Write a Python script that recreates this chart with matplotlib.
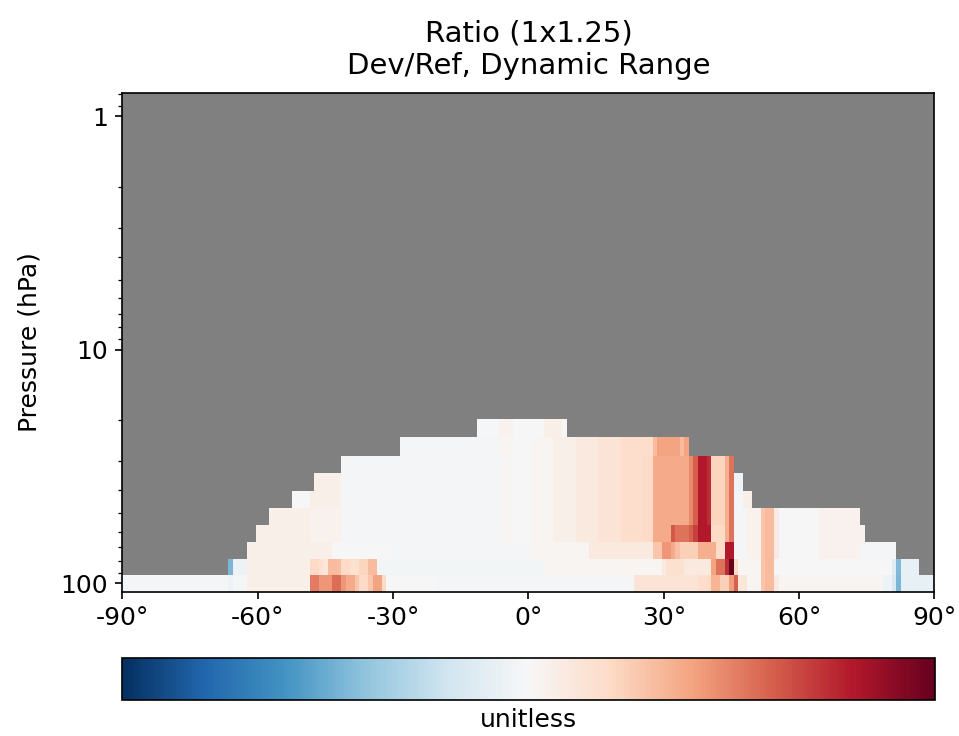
import numpy as np
import matplotlib
matplotlib.use("Agg")
import matplotlib.pyplot as plt
import matplotlib.ticker as mticker

# GEOS-Chem 72-level pressure edges (hPa), bottom of plot to top
pres_edges = [108.663, 92.366, 78.512, 66.603, 56.388, 47.644, 40.175, 33.810,
              28.368, 23.730, 19.792, 16.457, 13.643, 11.277, 9.293, 7.620,
              6.217, 5.047, 4.077, 3.276, 2.620, 2.085, 1.651, 1.301, 1.019, 0.795]

# 1x1.25 grid latitude edges (half-size polar cells)
lat_edges = np.concatenate(([-90.0], np.arange(-89.5, 90.0, 1.0), [90.0]))

# ratio values, (lat_from, lat_to, ratio) per level
row_1 = [(-90, -66.5, 0.99), (-66.5, -65.5, 0.97), (-65.5, -62.5, 0.99), (-62.5, -48.5, 1.03),
         (-48.5, -46.5, 1.26), (-46.5, -43.5, 1.22), (-43.5, -41.5, 1.28), (-41.5, -40.5, 1.22),
         (-40.5, -38.5, 1.19), (-38.5, -37.5, 1.14), (-37.5, -35.5, 1.10), (-35.5, -34.5, 1.14),
         (-34.5, -32.5, 1.20), (-32.5, -31.5, 1.10), (-31.5, -20.5, 1.0), (-20.5, 23.5, 0.99),
         (23.5, 37.5, 1.07), (37.5, 39.5, 1.09), (39.5, 40.5, 1.10), (40.5, 42.5, 1.17),
         (42.5, 44.5, 1.12), (44.5, 45.5, 1.21), (45.5, 46.5, 1.30), (46.5, 48.5, 1.06),
         (48.5, 51.5, 1.01), (51.5, 52.5, 1.14), (52.5, 54.5, 1.16), (54.5, 55.5, 1.04),
         (55.5, 78.5, 1.01), (78.5, 80.5, 0.97), (80.5, 81.5, 0.92), (81.5, 82.5, 0.77),
         (82.5, 90, 0.96)]

row_2 = [(-66.5, -65.5, 0.77), (-65.5, -62.5, 0.97), (-62.5, -48.5, 1.03), (-48.5, -46.5, 1.10),
         (-46.5, -45.5, 1.08), (-45.5, -44.5, 1.06), (-44.5, -42.5, 1.16), (-42.5, -41.5, 1.15),
         (-41.5, -39.5, 1.10), (-39.5, -37.5, 1.08), (-37.5, -35.5, 1.11), (-35.5, -33.5, 1.16),
         (-33.5, 3.5, 0.985), (3.5, 29.5, 1.01), (29.5, 30.5, 1.05), (30.5, 34.5, 1.08),
         (34.5, 40.5, 1.05), (40.5, 41.5, 1.20), (41.5, 43.5, 1.27), (43.5, 44.5, 1.37),
         (44.5, 45.5, 1.50), (45.5, 46.5, 1.10), (46.5, 51.5, 1.01), (51.5, 52.5, 1.14),
         (52.5, 54.5, 1.16), (54.5, 80.5, 1.0), (80.5, 81.5, 0.94), (81.5, 82.5, 0.78),
         (82.5, 86.5, 0.96)]

row_3 = [(-62.5, -43.5, 1.03), (-43.5, -30.5, 1.0), (-30.5, 0.5, 0.99), (0.5, 13.5, 1.01),
         (13.5, 27.5, 1.05), (27.5, 29.5, 1.14), (29.5, 31.5, 1.22), (31.5, 32.5, 1.19),
         (32.5, 33.5, 1.15), (33.5, 37.5, 1.12), (37.5, 41.5, 1.18), (41.5, 43.5, 1.10),
         (43.5, 45.5, 1.40), (45.5, 48.5, 0.99), (48.5, 51.5, 1.02), (51.5, 52.5, 1.14),
         (52.5, 54.5, 1.16), (54.5, 55.5, 1.04), (55.5, 64.5, 1.0), (64.5, 73.5, 1.02),
         (73.5, 81.5, 0.99)]

row_4 = [(-60.5, -48.5, 1.03), (-48.5, -41.5, 1.02), (-41.5, -6.5, 0.99), (-6.5, -3.5, 1.005),
         (-3.5, 0.5, 1.0), (0.5, 5.5, 1.01), (5.5, 10.5, 1.03), (10.5, 15.5, 1.05),
         (15.5, 20.5, 1.07), (20.5, 25.5, 1.09), (25.5, 27.5, 1.10), (27.5, 31.5, 1.19),
         (31.5, 32.5, 1.31), (32.5, 35.5, 1.27), (35.5, 36.5, 1.30), (36.5, 37.5, 1.34),
         (37.5, 40.5, 1.40), (40.5, 43.5, 1.10), (43.5, 44.5, 1.18), (44.5, 45.5, 1.27),
         (45.5, 48.5, 0.99), (48.5, 51.5, 1.02), (51.5, 52.5, 1.14), (52.5, 54.5, 1.16),
         (54.5, 55.5, 1.04), (55.5, 64.5, 1.0), (64.5, 74.5, 1.02)]

# shared middle part of levels 5-8
core = [(-41.5, -6.5, 0.99), (-6.5, -3.5, 1.005), (-3.5, 0.5, 1.0), (0.5, 5.5, 1.01),
        (5.5, 10.5, 1.03), (10.5, 15.5, 1.05), (15.5, 20.5, 1.07), (20.5, 25.5, 1.09),
        (25.5, 27.5, 1.10), (27.5, 35.5, 1.19), (35.5, 36.5, 1.24), (36.5, 37.5, 1.30),
        (37.5, 39.5, 1.40), (39.5, 40.5, 1.37), (40.5, 43.5, 1.11), (43.5, 44.5, 1.18),
        (44.5, 45.5, 1.27)]

row_5 = [(-57.5, -48.5, 1.03), (-48.5, -41.5, 1.02)] + core + \
        [(45.5, 48.5, 0.99), (48.5, 51.5, 1.02), (51.5, 52.5, 1.14), (52.5, 54.5, 1.16),
         (54.5, 55.5, 1.04), (55.5, 64.5, 1.0), (64.5, 73.5, 1.02)]
row_6 = [(-52.5, -48.5, 0.995), (-48.5, -41.5, 1.03)] + core + \
        [(45.5, 47.5, 0.99), (47.5, 49.5, 1.03)]
row_7 = [(-47.5, -41.5, 1.03)] + core + [(45.5, 47.5, 0.98)]
row_8 = core

row_9 = [(-28.5, -6.5, 0.99), (-6.5, -3.5, 1.01), (-3.5, 0.5, 1.0), (0.5, 5.5, 1.01),
         (5.5, 10.5, 1.03), (10.5, 15.5, 1.05), (15.5, 20.5, 1.07), (20.5, 27.5, 1.09),
         (27.5, 28.5, 1.16), (28.5, 33.5, 1.20), (33.5, 34.5, 1.16), (34.5, 35.5, 1.20)]

row_10 = [(-11.5, -6.5, 0.995), (-6.5, -3.5, 1.02), (-3.5, 3.5, 1.0), (3.5, 7.5, 1.03),
          (7.5, 8.5, 1.0)]

levels = [row_1, row_2, row_3, row_4, row_5, row_6, row_7, row_8, row_9, row_10]


def build_grid():
    centers = 0.5 * (lat_edges[:-1] + lat_edges[1:])
    data = np.full((len(pres_edges) - 1, len(centers)), np.nan)
    for k, segs in enumerate(levels):
        for lo, hi, val in segs:
            data[k, (centers > lo) & (centers < hi)] = val
    return np.ma.masked_invalid(data)


def main():
    data = build_grid()

    fig = plt.figure(figsize=(959 / 150, 736 / 150), dpi=150)
    ax = fig.add_axes([0.1277, 0.196, 0.8467, 0.6776])
    ax.set_facecolor('#808080')

    cmap = plt.get_cmap('RdBu_r').copy()
    cmap.set_bad('#808080')
    mesh = ax.pcolormesh(lat_edges, pres_edges, data, cmap=cmap, vmin=0.5, vmax=1.5)

    ax.set_yscale('log')
    ax.set_ylim(pres_edges[0], pres_edges[-1])
    ax.set_xlim(-90, 90)
    ax.yaxis.set_major_locator(mticker.FixedLocator([1, 10, 100]))
    ax.yaxis.set_major_formatter(mticker.FuncFormatter(lambda v, p: f"{v:g}"))
    ax.yaxis.set_minor_formatter(mticker.NullFormatter())
    ax.set_xticks(np.arange(-90, 91, 30))
    ax.set_xticklabels([f"{v}°" for v in range(-90, 91, 30)])
    ax.tick_params(labelsize=12)
    ax.set_ylabel('Pressure (hPa)', fontsize=12, labelpad=9)
    ax.set_title('Ratio (1x1.25)\nDev/Ref, Dynamic Range', fontsize=14, pad=9)

    cax = fig.add_axes([0.1272, 0.049, 0.8478, 0.057])
    cb = fig.colorbar(mesh, cax=cax, orientation='horizontal')
    cb.set_ticks([])
    cb.set_label('unitless', fontsize=12)

    fig.savefig('out.png', dpi=150)


if __name__ == "__main__":
    main()
